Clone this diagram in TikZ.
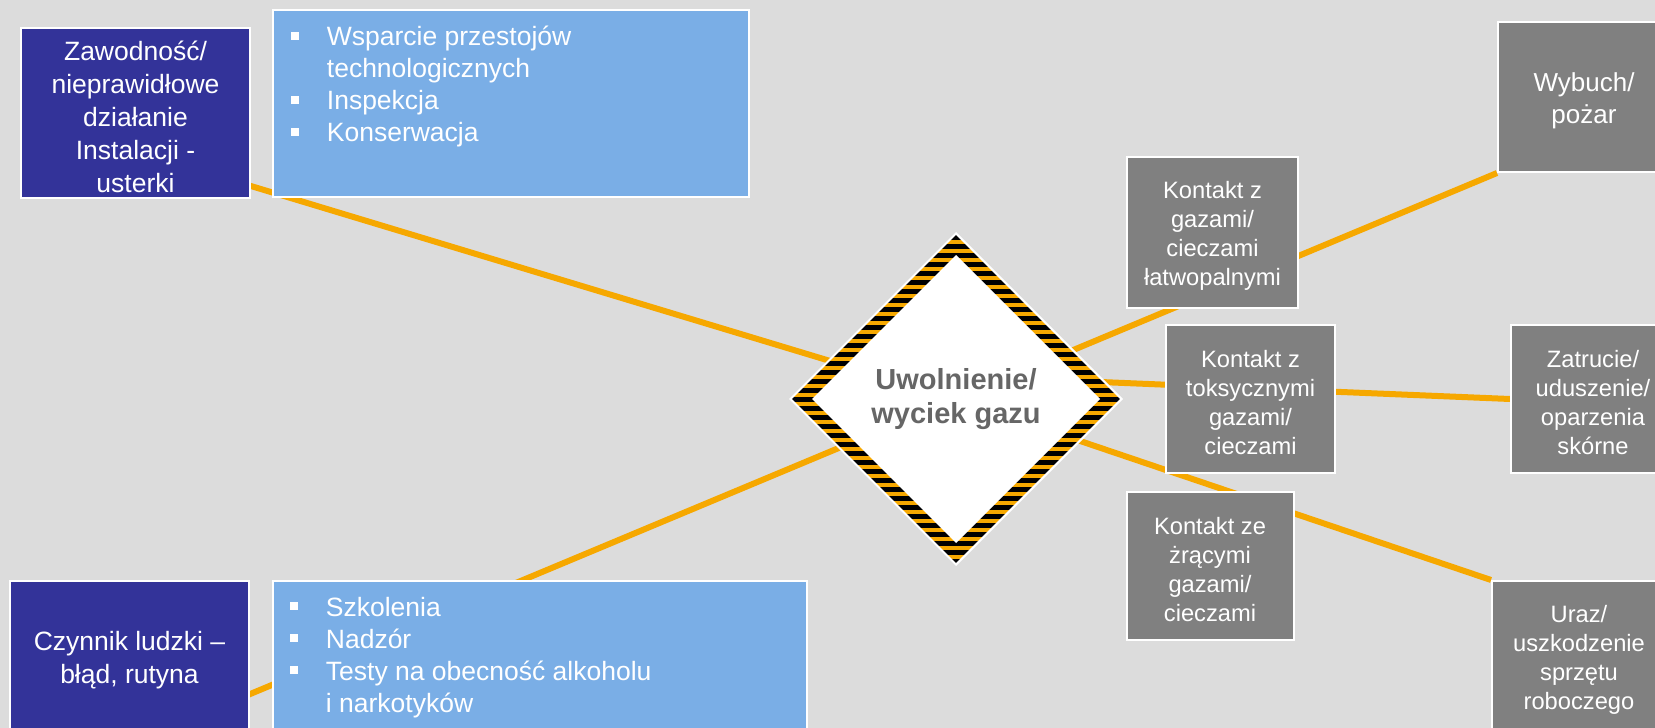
\documentclass[tikz,border=0pt]{standalone}
\usepackage{fontspec}
\setmainfont{Liberation Sans}
\usetikzlibrary{shapes.geometric}
\definecolor{bgc}{HTML}{DCDCDC}
\definecolor{navy}{HTML}{333399}
\definecolor{sky}{HTML}{7AAEE6}
\definecolor{boxgray}{HTML}{808080}
\definecolor{amber}{HTML}{F6A800}
\definecolor{txtgray}{HTML}{666666}
\newcommand{\bulsq}{\makebox[35.7pt][l]{\rule[6pt]{8pt}{8pt}}}
\pgfdeclarelayer{bg}
\pgfsetlayers{bg,main}
\begin{document}
\begin{tikzpicture}[x=1pt,y=-1pt,
  box/.style={rectangle, draw=white, line width=2pt, inner sep=0pt},
  navybox/.style={box, fill=navy},
  skybox/.style={box, fill=sky},
  graybox/.style={box, fill=boxgray},
  btext/.style={inner sep=0pt, text=white, align=center},
  navytext/.style={btext, font=\fontsize{26.5}{32.5}\selectfont},
  graytext/.style={btext, font=\fontsize{23.7}{28.8}\selectfont},
  bigtext/.style={btext, font=\fontsize{26}{32}\selectfont},
  conn/.style={draw=amber, line width=6pt},
  listtext/.style={anchor=base west, inner sep=0pt, text=white, font=\fontsize{26.5}{32}\selectfont},
  hazard/.style={diamond, aspect=1, minimum width=332pt, minimum height=332pt, inner sep=0pt,
    fill=white, draw=white, line width=2pt, text=txtgray, align=center,
    font=\fontsize{29}{34}\selectfont\bfseries,
    path picture={
      \fill[amber] (path picture bounding box.south west) rectangle (path picture bounding box.north east);
      \foreach \k in {-20,...,20}{
        \fill[black] ([yshift=\k*9pt]path picture bounding box.center) ++(-170pt,-2.5pt) rectangle ++(340pt,5pt);
      }
      \fill[white] ([yshift=144pt]path picture bounding box.center) -- ([xshift=144pt]path picture bounding box.center)
        -- ([yshift=-144pt]path picture bounding box.center) -- ([xshift=-144pt]path picture bounding box.center) -- cycle;
    }}
]
\useasboundingbox (0,0) rectangle (1655,728);
\clip (0,0) rectangle (1655,728);

% left side
\node[navybox, minimum width=229pt, minimum height=170pt] (zb) at (135.5,113) {};
\node[navytext, font=\fontsize{26.5}{33}\selectfont] (zbt) at ([yshift=-3.5pt]zb.center)
  {Zawodność/\\nieprawidłowe\\działanie\\Instalacji -\\usterki};
\node[skybox, minimum width=476pt, minimum height=187pt] (lb1) at (511,103.5) {};
\node[listtext] (lb1t) at (291,45.7) {\begin{tabular}[t]{@{}l@{}l@{}}
  \bulsq & Wsparcie przestojów\\
         & technologicznych\\
  \bulsq & Inspekcja\\
  \bulsq & Konserwacja
\end{tabular}};

\node[navybox, minimum width=239pt, minimum height=156pt] (cz) at (129.5,659) {};
\node[navytext] (czt) at ([yshift=-1pt]cz.center) {Czynnik ludzki –\\błąd, rutyna};
\node[skybox, minimum width=534pt, minimum height=163pt] (lb2) at (540,662.5) {};
\node[listtext] (lb2t) at (290,616) {\begin{tabular}[t]{@{}l@{}l@{}}
  \bulsq & Szkolenia\\
  \bulsq & Nadzór\\
  \bulsq & Testy na obecność alkoholu\\
         & i narkotyków
\end{tabular}};

% right side
\node[graybox, minimum width=171pt, minimum height=151pt] (k1) at (1212.5,232.5) {};
\node[graytext] (k1t) at ([yshift=-3.5pt]k1.center) {Kontakt z\\gazami/\\cieczami\\łatwopalnymi};
\node[graybox, minimum width=172pt, minimum height=150pt] (wyb) at (1584,97) {};
\node[bigtext] (wybt) at ([yshift=-3.5pt]wyb.center) {Wybuch/\\pożar};
\node[graybox, minimum width=169pt, minimum height=148pt] (k2) at (1250.5,399) {};
\node[graytext] (k2t) at ([yshift=-3.5pt]k2.center) {Kontakt z\\toksycznymi\\gazami/\\cieczami};
\node[graybox, minimum width=164pt, minimum height=148pt] (zat) at (1593,399) {};
\node[graytext] (zatt) at ([yshift=-3.5pt]zat.center) {Zatrucie/\\uduszenie/\\oparzenia\\skórne};
\node[graybox, minimum width=167pt, minimum height=148pt] (k3) at (1210,566) {};
\node[graytext] (k3t) at ([yshift=-3.5pt]k3.center) {Kontakt ze\\żrącymi\\gazami/\\cieczami};
\node[graybox, minimum width=174pt, minimum height=151pt] (ura) at (1579,656.5) {};
\node[graytext] (urat) at ([yshift=-3.5pt]ura.center) {Uraz/\\uszkodzenie\\sprzętu\\roboczego};

% central hazard diamond
\node[hazard] (d) at (956,399) {Uwolnienie/\\wyciek gazu};

\coordinate (c1) at (135,151);
\coordinate (c2) at (200,715);
\coordinate (c4) at (956,376);

\begin{pgfonlayer}{bg}
  \fill[bgc] (0,0) rectangle (1655,728);
  \draw[conn] (d.center) -- (c1);
  \draw[conn] (d.center) -- (c2);
  \draw[conn] (d.center) -- (wyb.south west);
  \draw[conn] (c4) -- (zat.west);
  \draw[conn] (d.center) -- (ura.north west);
\end{pgfonlayer}
\end{tikzpicture}
\end{document}
